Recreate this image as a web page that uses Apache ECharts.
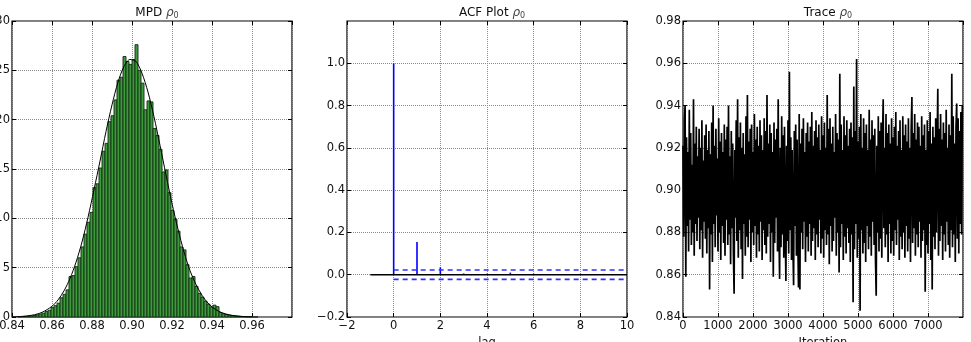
<!DOCTYPE html>
<html>
<head>
<meta charset="utf-8">
<script src="https://cdn.jsdelivr.net/npm/echarts@6/dist/echarts.min.js"></script>
<style>
html, body { margin: 0; padding: 0; background: #fff; }
#chart { width: 971px; height: 342px; }
</style>
</head>
<body>
<div id="chart"></div>
<script>
// histogram of the posterior draws (density), 80 bins
const histBinStart = 0.843;
const histBinWidth = 0.0015;
const histHeights = [
    0.03, 0.05, 0.06, 0.08, 0.10, 0.15, 0.22, 0.30, 0.38, 0.55,
    0.68, 0.95, 1.15, 1.40, 1.95, 2.30, 2.75, 4.10, 4.20, 5.10,
    6.00, 7.10, 8.40, 9.60, 10.60, 13.10, 13.50, 15.10, 16.80, 17.60,
    19.80, 20.40, 22.00, 24.00, 24.30, 26.40, 25.90, 25.60, 26.10, 27.60,
    25.00, 23.70, 21.00, 21.90, 21.80, 19.10, 18.40, 17.00, 14.70, 14.90,
    12.60, 10.80, 9.90, 8.70, 7.10, 6.80, 5.30, 3.95, 4.10, 3.10,
    2.40, 2.00, 1.60, 1.30, 1.00, 1.20, 1.05, 0.45, 0.33, 0.25,
    0.18, 0.14, 0.10, 0.07, 0.05, 0.04, 0.03, 0.02, 0.01, 0.01
];
// kernel density curve
const kdeX = [0.840, 0.845, 0.850, 0.855, 0.860, 0.863, 0.866, 0.869, 0.872, 0.875,
    0.878, 0.881, 0.884, 0.887, 0.890, 0.893, 0.896, 0.899, 0.902, 0.905,
    0.908, 0.911, 0.914, 0.917, 0.920, 0.923, 0.926, 0.929, 0.932, 0.935,
    0.938, 0.941, 0.944, 0.947, 0.950, 0.955, 0.960];
const kdeY = [0.02, 0.06, 0.18, 0.47, 1.09, 1.73, 2.65, 3.9, 5.55, 7.6,
    10.1, 12.9, 15.8, 18.8, 21.5, 23.8, 25.4, 26.1, 25.9, 24.7,
    22.8, 20.3, 17.4, 14.4, 11.5, 8.9, 6.6, 4.7, 3.3, 2.2,
    1.4, 0.87, 0.52, 0.30, 0.17, 0.06, 0.02];

// autocorrelation
const acfLags = [0, 1, 2, 3, 4, 5, 6, 7, 8, 9];
const acfValues = [1.0, 0.155, 0.035, 0.006, 0.005, 0.010, 0.005, 0.003, 0.004, 0.004];
const acfConf = 0.022;

// trace, one value every 20 iterations
const traceStep = 20;
const traceValues = [
    0.921, 0.878, 0.934, 0.940, 0.859, 0.925, 0.883, 0.918, 0.871, 0.938, 0.886, 0.927, 0.874, 0.912, 0.880, 0.943, 0.869, 0.922, 0.884, 0.930,
    0.876, 0.916, 0.887, 0.929, 0.872, 0.920, 0.881, 0.933, 0.868, 0.914, 0.885, 0.926, 0.877, 0.931, 0.870, 0.919, 0.882, 0.928, 0.853, 0.917,
    0.879, 0.932, 0.866, 0.940, 0.884, 0.921, 0.873, 0.929, 0.888, 0.915, 0.871, 0.934, 0.880, 0.923, 0.867, 0.927, 0.883, 0.918, 0.875, 0.931,
    0.869, 0.924, 0.886, 0.930, 0.874, 0.940, 0.879, 0.916, 0.865, 0.928, 0.882, 0.922, 0.870, 0.851, 0.919, 0.887, 0.933, 0.876, 0.943, 0.868,
    0.925, 0.881, 0.932, 0.872, 0.920, 0.858, 0.927, 0.884, 0.917, 0.869, 0.935, 0.878, 0.945, 0.873, 0.923, 0.886, 0.929, 0.866, 0.931, 0.880,
    0.918, 0.874, 0.936, 0.883, 0.924, 0.868, 0.930, 0.879, 0.921, 0.871, 0.933, 0.885, 0.926, 0.867, 0.919, 0.881, 0.934, 0.874, 0.928, 0.870,
    0.945, 0.878, 0.922, 0.884, 0.931, 0.866, 0.927, 0.880, 0.918, 0.859, 0.932, 0.875, 0.924, 0.887, 0.929, 0.871, 0.943, 0.882, 0.858, 0.920,
    0.873, 0.935, 0.879, 0.926, 0.868, 0.930, 0.884, 0.857, 0.921, 0.876, 0.933, 0.870, 0.956, 0.881, 0.925, 0.867, 0.919, 0.874, 0.855, 0.928,
    0.883, 0.931, 0.869, 0.924, 0.877, 0.854, 0.936, 0.853, 0.922, 0.880, 0.929, 0.872, 0.934, 0.885, 0.918, 0.866, 0.927, 0.878, 0.932, 0.871,
    0.923, 0.884, 0.930, 0.869, 0.937, 0.876, 0.921, 0.882, 0.928, 0.867, 0.933, 0.879, 0.925, 0.873, 0.931, 0.886, 0.919, 0.870, 0.935, 0.877,
    0.926, 0.868, 0.932, 0.881, 0.920, 0.874, 0.945, 0.879, 0.929, 0.865, 0.934, 0.883, 0.922, 0.871, 0.930, 0.876, 0.918, 0.887, 0.936, 0.869,
    0.927, 0.880, 0.924, 0.861, 0.955, 0.873, 0.931, 0.884, 0.919, 0.867, 0.935, 0.878, 0.926, 0.870, 0.933, 0.882, 0.921, 0.875, 0.929, 0.866,
    0.932, 0.879, 0.925, 0.847, 0.949, 0.872, 0.928, 0.884, 0.962, 0.868, 0.923, 0.877, 0.930, 0.843, 0.936, 0.881, 0.920, 0.870, 0.934, 0.875,
    0.927, 0.866, 0.931, 0.883, 0.919, 0.872, 0.938, 0.878, 0.924, 0.869, 0.933, 0.885, 0.926, 0.874, 0.929, 0.867, 0.850, 0.921, 0.880, 0.935,
    0.871, 0.928, 0.877, 0.932, 0.868, 0.924, 0.943, 0.882, 0.920, 0.873, 0.936, 0.879, 0.927, 0.866, 0.931, 0.884, 0.922, 0.870, 0.934, 0.876,
    0.925, 0.869, 0.930, 0.881, 0.937, 0.874, 0.921, 0.886, 0.928, 0.867, 0.933, 0.878, 0.919, 0.872, 0.935, 0.880, 0.926, 0.868, 0.931, 0.883,
    0.923, 0.871, 0.934, 0.877, 0.920, 0.866, 0.929, 0.944, 0.875, 0.927, 0.882, 0.936, 0.869, 0.924, 0.879, 0.932, 0.873, 0.930, 0.885, 0.921,
    0.868, 0.935, 0.876, 0.926, 0.881, 0.931, 0.852, 0.919, 0.874, 0.933, 0.870, 0.928, 0.884, 0.937, 0.867, 0.922, 0.853, 0.930, 0.878, 0.925,
    0.872, 0.934, 0.880, 0.921, 0.948, 0.869, 0.929, 0.876, 0.936, 0.883, 0.924, 0.867, 0.932, 0.879, 0.927, 0.871, 0.938, 0.885, 0.920, 0.874,
    0.931, 0.868, 0.926, 0.881, 0.955, 0.873, 0.935, 0.879, 0.922, 0.866, 0.930, 0.941, 0.877, 0.934, 0.870, 0.928, 0.884, 0.937, 0.879, 0.940
];

const FONT = 'DejaVu Sans';
const LABEL_SIZE = 11.5;
const minus = v => String(v).replace('-', '\u2212');

function bottomAxis(grid, min, max, interval, fmt, showMax, name) {
    return {
        type: 'value', gridIndex: grid, min: min, max: max, interval: interval,
        name: name || '', nameLocation: 'middle', nameGap: 15,
        nameTextStyle: { fontFamily: FONT, fontSize: LABEL_SIZE, color: '#111' },
        axisLine: { show: false, onZero: false },
        axisTick: { show: true, inside: true, length: 4, lineStyle: { color: '#000' } },
        axisLabel: { fontFamily: FONT, fontSize: LABEL_SIZE, color: '#111', margin: 3, formatter: fmt, showMaxLabel: showMax, showMinLabel: true, hideOverlap: false },
        splitLine: { show: true, lineStyle: { color: '#8a8a8a', type: 'dotted', width: 1 } }
    };
}
function leftAxis(grid, min, max, interval, fmt, showMax) {
    return {
        type: 'value', gridIndex: grid, min: min, max: max, interval: interval,
        axisLine: { show: false, onZero: false },
        axisTick: { show: true, inside: true, length: 4, lineStyle: { color: '#000' } },
        axisLabel: { fontFamily: FONT, fontSize: LABEL_SIZE, color: '#111', margin: 2, formatter: fmt, showMaxLabel: showMax, showMinLabel: true },
        splitLine: { show: true, lineStyle: { color: '#8a8a8a', type: 'dotted', width: 1 } }
    };
}
function mirrorAxis(axis, pos) {
    return Object.assign({}, axis, {
        position: pos, name: '',
        axisLabel: { show: false },
        splitLine: { show: false }
    });
}

const xHist = bottomAxis(0, 0.84, 0.98, 0.02, v => v.toFixed(2), false);
const xAcf = bottomAxis(1, -2, 10, 2, v => minus(v), true, 'lag');
const xTrace = bottomAxis(2, 0, 8000, 1000, v => String(v), false, 'Iteration');
const yHist = leftAxis(0, 0, 30, 5, v => String(v), true);
const yAcf = leftAxis(1, -0.2, 1.2, 0.2, v => minus(v.toFixed(1)), false);
const yTrace = leftAxis(2, 0.84, 0.98, 0.02, v => v.toFixed(2), true);

function titleText(label) {
    return '{a|' + label + ' }{r|ρ}{s|0}';
}
const titleRich = {
    a: { fontFamily: FONT, fontSize: 12, fontWeight: 'normal', color: '#111' },
    r: { fontFamily: FONT, fontSize: 12, fontWeight: 'normal', fontStyle: 'italic', color: '#444' },
    s: { fontFamily: FONT, fontSize: 8, fontWeight: 'normal', color: '#444', verticalAlign: 'bottom', padding: [6, 0, 0, 0] }
};

const histData = histHeights.map((h, i) => [histBinStart + i * histBinWidth, histBinStart + (i + 1) * histBinWidth, h]);

function panel(left) {
    return {
        left: left, top: 21, width: 280, height: 296,
        outerBoundsMode: 'none', containLabel: false,
        show: true, borderColor: '#000', borderWidth: 1.2, backgroundColor: 'transparent'
    };
}

const option = {
    animation: false,
    backgroundColor: '#fff',
    title: [
        { text: titleText('MPD'), left: 152, top: 1, textAlign: 'center', textStyle: { fontWeight: 'normal', rich: titleRich } },
        { text: titleText('ACF Plot'), left: 487, top: 1, textAlign: 'center', textStyle: { fontWeight: 'normal', rich: titleRich } },
        { text: titleText('Trace'), left: 823, top: 1, textAlign: 'center', textStyle: { fontWeight: 'normal', rich: titleRich } }
    ],
    grid: [panel(12), panel(347), panel(683)],
    xAxis: [xHist, mirrorAxis(xHist, 'top'), xAcf, mirrorAxis(xAcf, 'top'), xTrace, mirrorAxis(xTrace, 'top')],
    yAxis: [yHist, mirrorAxis(yHist, 'right'), yAcf, mirrorAxis(yAcf, 'right'), yTrace, mirrorAxis(yTrace, 'right')],
    series: [
        {
            type: 'custom', xAxisIndex: 0, yAxisIndex: 0,
            data: histData,
            encode: { x: [0, 1], y: 2 },
            renderItem: function(params, api) {
                const p0 = api.coord([api.value(0), api.value(2)]);
                const p1 = api.coord([api.value(1), 0]);
                return {
                    type: 'rect',
                    shape: { x: p0[0], y: p0[1], width: p1[0] - p0[0], height: p1[1] - p0[1] },
                    style: { fill: '#3c9c3c', stroke: '#152a15', lineWidth: 0.9 }
                };
            }
        },
        {
            type: 'line', xAxisIndex: 0, yAxisIndex: 0,
            data: kdeX.map((x, i) => [x, kdeY[i]]),
            smooth: 0.3, showSymbol: false,
            lineStyle: { color: '#000', width: 1 }
        },
        {
            type: 'line', xAxisIndex: 2, yAxisIndex: 2,
            data: [[-1, 0], [10, 0]],
            showSymbol: false,
            lineStyle: { color: '#000', width: 1.6 }
        },
        {
            type: 'custom', xAxisIndex: 2, yAxisIndex: 2,
            data: acfLags.map((l, i) => [l, acfValues[i]]),
            renderItem: function(params, api) {
                const a = api.coord([api.value(0), 0]);
                const b = api.coord([api.value(0), api.value(1)]);
                return {
                    type: 'line',
                    shape: { x1: a[0], y1: a[1], x2: b[0], y2: b[1] },
                    style: { stroke: '#0000ff', lineWidth: 1.6 }
                };
            }
        },
        {
            type: 'line', xAxisIndex: 2, yAxisIndex: 2,
            data: [[0, acfConf], [10, acfConf]],
            showSymbol: false,
            lineStyle: { color: '#3030ff', width: 1.6, type: [5, 4] }
        },
        {
            type: 'line', xAxisIndex: 2, yAxisIndex: 2,
            data: [[0, -acfConf], [10, -acfConf]],
            showSymbol: false,
            lineStyle: { color: '#3030ff', width: 1.6, type: [5, 4] }
        },
        {
            type: 'line', xAxisIndex: 4, yAxisIndex: 4,
            data: traceValues.map((v, i) => [i * traceStep, v]),
            showSymbol: false, sampling: null,
            lineStyle: { color: '#000', width: 1.7 }
        }
    ]
};

const chart = echarts.init(document.getElementById('chart'));
chart.setOption(option);
</script>
</body>
</html>
